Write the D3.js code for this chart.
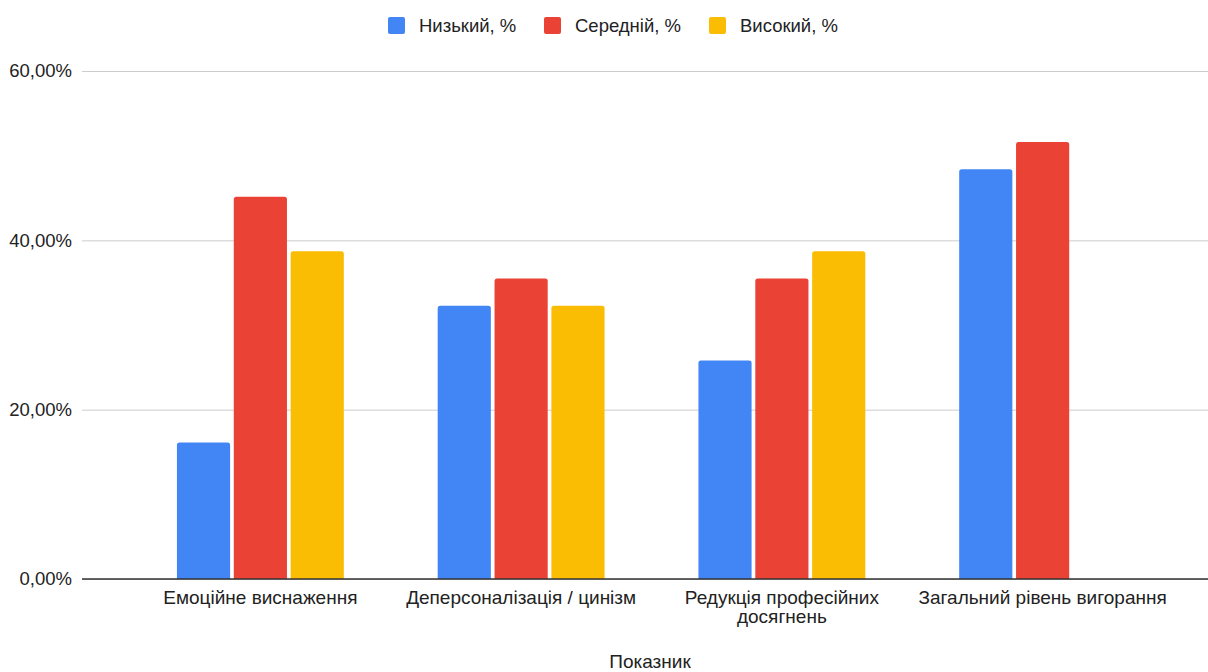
<!DOCTYPE html>
<html>
<head>
<meta charset="utf-8">
<script src="https://cdn.jsdelivr.net/npm/d3@7"></script>
<style>
  html, body { margin: 0; padding: 0; background: #fff; }
  svg { display: block; font-family: "Liberation Sans", Arial, sans-serif; }
</style>
</head>
<body>
<svg id="chart" width="1208" height="672"></svg>
<script>
// Burnout indicators: share of respondents by level
const categories = [
  "Емоційне виснаження",
  "Деперсоналізація / цинізм",
  "Редукція професійних досягнень",
  "Загальний рівень вигорання"
];
const seriesNames = ["Низький, %", "Середній, %", "Високий, %"];
const low    = [16.13, 32.26, 25.81, 48.39];
const medium = [45.16, 35.48, 35.48, 51.61];
const high   = [38.71, 32.26, 38.71, 0];
const yTicks = [0, 20, 40, 60];
const colors = ["#4285F4", "#EA4335", "#FBBC04"];
const xTitle = "Показник";

const seriesValues = [low, medium, high];

const svg = d3.select("#chart");
const FS = 18.5;      // tick and legend text size
const FS_CAT = 19;    // category label size

const y = d3.scaleLinear().domain([0, 60]).range([579, 71]);
const x0 = d3.scaleBand().domain(categories).range([130, 1173]).paddingInner(0.36).paddingOuter(0.18);
const x1 = d3.scaleBand().domain(seriesNames).range([0, x0.bandwidth()]).paddingInner(0.065);
const color = d3.scaleOrdinal().domain(seriesNames).range(colors);

const fmt = v => d3.format(".2f")(v).replace(".", ",") + "%";

// Gridlines and y labels
const yAxis = d3.axisLeft(y).tickValues(yTicks).tickSize(-(1208 - 82)).tickFormat(fmt).tickPadding(10);
const gy = svg.append("g").attr("transform", "translate(82,0)").call(yAxis);
gy.select(".domain").remove();
gy.selectAll(".tick line").attr("stroke", "#cccccc").attr("stroke-width", 1);
gy.selectAll(".tick text").attr("fill", "#222").attr("font-size", FS)
  .attr("font-family", "Liberation Sans, Arial, sans-serif");

// Bars with slightly rounded tops
const rows = categories.map((c, i) => ({ cat: c, vals: seriesNames.map((s, j) => ({ s, v: seriesValues[j][i] })) }));
const r = 2.5;
function barPath(xp, w, yTop, yBase) {
  const h = yBase - yTop;
  if (h <= 0) return "";
  const rr = Math.min(r, h, w / 2);
  return `M${xp},${yBase}V${yTop + rr}Q${xp},${yTop} ${xp + rr},${yTop}H${xp + w - rr}Q${xp + w},${yTop} ${xp + w},${yTop + rr}V${yBase}Z`;
}
svg.append("g").selectAll("g").data(rows).join("g")
  .attr("transform", d => `translate(${x0(d.cat)},0)`)
  .selectAll("path").data(d => d.vals).join("path")
  .attr("d", d => barPath(x1(d.s), x1.bandwidth(), y(d.v), y(0)))
  .attr("fill", d => color(d.s));

// Baseline
svg.append("line").attr("x1", 82).attr("x2", 1208).attr("y1", y(0)).attr("y2", y(0))
  .attr("stroke", "#333").attr("stroke-width", 1.3);

// Category labels, wrapped to the category step
const xLabels = svg.append("g").selectAll("text").data(categories).join("text")
  .attr("x", d => x0(d) + x0.bandwidth() / 2)
  .attr("y", 604)
  .attr("text-anchor", "middle")
  .attr("font-size", FS_CAT)
  .attr("fill", "#222");
xLabels.each(function (d) {
  const t = d3.select(this);
  const words = d.split(" ");
  const maxW = 256;
  let line = [], lines = [];
  const probe = t.append("tspan");
  words.forEach(w => {
    const test = line.concat(w).join(" ");
    probe.text(test);
    if (probe.node().getComputedTextLength() > maxW && line.length) {
      lines.push(line.join(" "));
      line = [w];
    } else line.push(w);
  });
  lines.push(line.join(" "));
  probe.remove();
  lines.forEach((l, i) => {
    t.append("tspan").attr("x", t.attr("x")).attr("dy", i === 0 ? 0 : 19).text(l);
  });
});

// Axis title
svg.append("text").attr("x", 650).attr("y", 668).attr("text-anchor", "middle")
  .attr("font-size", FS_CAT).attr("fill", "#222").text(xTitle);

// Legend
const legendX = [388, 544, 709];
const lg = svg.append("g").selectAll("g").data(seriesNames).join("g")
  .attr("transform", (d, i) => `translate(${legendX[i]},17)`);
lg.append("rect").attr("width", 17).attr("height", 17).attr("rx", 2).attr("fill", d => color(d));
lg.append("text").attr("x", 31).attr("y", 15).attr("font-size", FS).attr("fill", "#222").text(d => d);
</script>
</body>
</html>
